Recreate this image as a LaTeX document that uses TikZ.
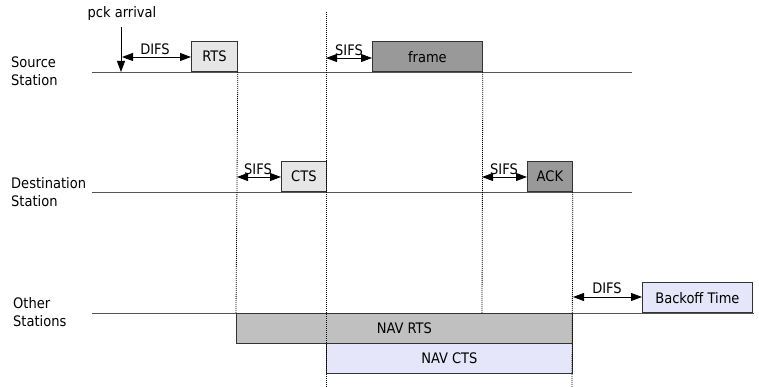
\documentclass[tikz,border=0pt]{standalone}
\usepackage{fontspec}
\setmainfont{DejaVu Sans Condensed}
\usetikzlibrary{arrows.meta}
\definecolor{boxlight}{HTML}{E6E6E6}
\definecolor{boxdark}{HTML}{999999}
\definecolor{boxnav}{HTML}{C0C0C0}
\definecolor{boxlav}{HTML}{E6E6FA}
\definecolor{linegray}{HTML}{555555}
\begin{document}
\begin{tikzpicture}[x=1pt,y=-1pt,
  every node/.style={font=\fontsize{14.5}{18}\selectfont},
  box/.style={draw=black!80, line width=0.8pt, inner sep=0pt, anchor=south west, minimum height=30pt},
  tline/.style={draw=linegray, line width=0.9pt},
  dotline/.style={draw=black, line width=0.8pt, dash pattern=on 1pt off 1pt},
  dbl/.style={line width=0.8pt, {Triangle[length=11pt,width=8pt]}-{Triangle[length=11pt,width=8pt]}},
  sgl/.style={line width=0.8pt, -{Triangle[length=11pt,width=8pt]}},
  lbl/.style={inner sep=0pt},
  station/.style={anchor=west, align=left, inner sep=0pt}
]
\useasboundingbox (0,0) rectangle (759,387);
% station labels
\node[station] (srcl) at (11,71) {Source\\Station};
\node[station] (dstl) at (11,192) {Destination\\Station};
\node[station] (othl) at (13,312) {Other\\Stations};
% timelines
\coordinate (s0) at (92,72); \coordinate (s1) at (632,72);
\coordinate (d0) at (92,192); \coordinate (d1) at (632,192);
\coordinate (o0) at (92,313); \coordinate (o1) at (754,313);
\draw[tline] (s0) -- (s1);
\draw[tline] (d0) -- (d1);
\draw[tline] (o0) -- (o1);
% boxes
\node[box, fill=boxlight, minimum width=46pt] (rts) at (191,72) {RTS};
\node[box, fill=boxdark, minimum width=110pt] (frame) at (372,72) {frame};
\node[box, fill=boxlight, minimum width=45pt] (cts) at (281,192) {CTS};
\node[box, fill=boxdark, minimum width=45pt] (ack) at (527,192) {ACK};
\node[box, fill=boxlav, minimum width=110pt] (backoff) at (642,313) {Backoff Time};
\node[box, fill=boxnav, minimum width=336pt, anchor=north west] (navrts) at (236,313) {NAV RTS};
\node[box, fill=boxlav, minimum width=246pt, anchor=north west] (navcts) at (326,343) {NAV CTS};
% dotted verticals
\coordinate (v2top) at (326,12); \coordinate (v2bot) at (326,387);
\coordinate (v3bot) at (482,313);
\coordinate (v4bot) at (572,387);
\draw[dotline] (rts.south east) -- (navrts.north west);
\draw[dotline] (v2top) -- (v2bot);
\draw[dotline] (frame.south east) -- (v3bot);
\draw[dotline] (ack.south east) -- (v4bot);
% packet arrival
\node[lbl] (pck) at (122,14) {pck arrival};
\coordinate (pcktop) at (121,27); \coordinate (pckbot) at (121,72);
\draw[sgl] (pcktop) -- (pckbot);
% DIFS source
\coordinate (difsA) at (122,57);
\draw[dbl] (difsA) -- (rts.west |- difsA);
\node[lbl] (difs1) at (155,49) {DIFS};
% SIFS source
\coordinate (sifsA) at (326,58);
\draw[dbl] (sifsA) -- (frame.west |- sifsA);
\node[lbl] (sifs1) at (349,50) {SIFS};
% SIFS dest 1
\coordinate (sifsB) at (237,177);
\draw[dbl] (sifsB) -- (cts.west |- sifsB);
\node[lbl] (sifs2) at (258,169) {SIFS};
% SIFS dest 2
\coordinate (sifsC) at (482,177);
\draw[dbl] (sifsC) -- (ack.west |- sifsC);
\node[lbl] (sifs3) at (504,169) {SIFS};
% DIFS other
\coordinate (difsB) at (573,297);
\draw[dbl] (difsB) -- (backoff.west |- difsB);
\node[lbl] (difs2) at (607,288) {DIFS};
\end{tikzpicture}
\end{document}
